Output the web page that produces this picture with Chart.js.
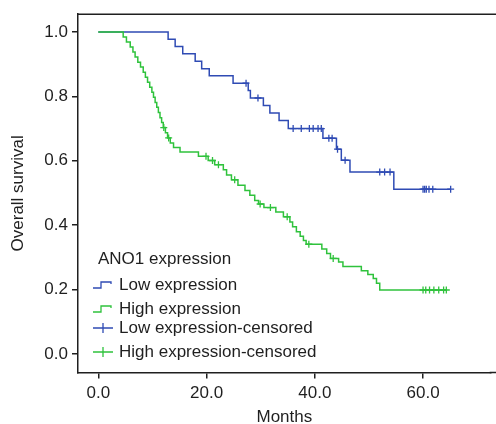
<!DOCTYPE html>
<html>
<head>
<meta charset="utf-8">
<script src="https://cdn.jsdelivr.net/npm/chart.js@4.4.1/dist/chart.umd.min.js"></script>
<style>
html,body{margin:0;padding:0;background:#fff;overflow:hidden;}
#wrap{width:496px;height:424px;position:relative;}
</style>
</head>
<body>
<div id="wrap"><canvas id="c" width="496" height="424"></canvas></div>
<script>
// ---- data ----
const xTicks = [0, 20, 40, 60];
const yTicks = [0, 0.2, 0.4, 0.6, 0.8, 1.0];

const lowTimes = [0, 12.9, 14.2, 15.6, 17.9, 19.1, 20.5, 24.9, 27.7, 28.1, 30.5, 31.7, 33.4, 35.1, 41.5, 44.0, 44.9, 46.5, 54.6, 65.1];
const lowSurv  = [1.0, 0.977, 0.955, 0.932, 0.909, 0.886, 0.864, 0.841, 0.818, 0.795, 0.772, 0.748, 0.725, 0.700, 0.670, 0.636, 0.602, 0.565, 0.512, 0.512];

const lowCensT = [27.3, 29.5, 36.0, 37.5, 39.0, 39.7, 40.6, 41.2, 42.6, 43.2, 44.2, 45.6, 52.0, 52.9, 53.9, 60.0, 60.3, 60.6, 61.1, 61.8, 65.1];
const lowCensS = [0.841, 0.795, 0.700, 0.700, 0.700, 0.700, 0.700, 0.700, 0.670, 0.670, 0.636, 0.602, 0.565, 0.565, 0.565, 0.512, 0.512, 0.512, 0.512, 0.512, 0.512];

const highTimes = [0, 4.6, 5.2, 5.9, 6.4, 6.8, 7.3, 7.8, 8.3, 8.7, 9.1, 9.5, 9.9, 10.2, 10.5, 10.8, 11.1, 11.4, 11.7, 12.0, 12.4, 12.8, 13.3, 13.9, 15.1,
  18.5, 20.3, 21.5, 23.1, 23.7, 24.6, 25.8, 27.1, 28.0, 28.9, 29.6, 30.6, 32.8, 34.2, 35.4, 35.9, 36.6, 37.3, 37.9, 38.4,
  41.3, 42.2, 42.9, 44.4, 45.2, 48.6, 49.8, 50.8, 51.4, 52.0, 64.3];
const highSurv  = [1.0, 0.984, 0.969, 0.953, 0.938, 0.922, 0.906, 0.891, 0.875, 0.859, 0.844, 0.828, 0.813, 0.797, 0.781, 0.766, 0.750, 0.734, 0.719, 0.703, 0.687, 0.671, 0.655, 0.641, 0.627,
  0.614, 0.601, 0.588, 0.572, 0.556, 0.541, 0.524, 0.508, 0.493, 0.477, 0.466, 0.455, 0.441, 0.426, 0.410, 0.395, 0.380, 0.366, 0.353, 0.341,
  0.326, 0.312, 0.297, 0.286, 0.272, 0.259, 0.247, 0.235, 0.220, 0.199, 0.199];

const highCensT = [12.1, 13.0, 19.9, 21.1, 22.2, 25.2, 29.9, 31.8, 34.9, 38.9, 43.4, 60.0, 60.5, 61.2, 62.0, 62.9, 63.8, 64.3];
const highCensS = [0.703, 0.671, 0.614, 0.601, 0.588, 0.541, 0.466, 0.455, 0.426, 0.341, 0.297, 0.199, 0.199, 0.199, 0.199, 0.199, 0.199, 0.199];

const legendTitle = 'ANO1 expression';
const legendLabels = ['Low expression', 'High expression', 'Low expression-censored', 'High expression-censored'];

// ---- styles ----
const BLUE = '#2f4bb4';
const GREEN = '#2fc23c';
const INK = '#1f1f1f';
const FONT = '"Liberation Sans", Arial, Helvetica, sans-serif';
const FS = 17;

function pts(xs, ys){ return xs.map((x,i)=>({x:x, y:ys[i]})); }

const framePlugin = {
  id: 'frame',
  afterDraw(chart){
    const ctx = chart.ctx, a = chart.chartArea;
    ctx.save();
    ctx.strokeStyle = INK; ctx.lineWidth = 1.5;
    ctx.beginPath();
    ctx.moveTo(a.left, a.top); ctx.lineTo(chart.width, a.top);
    ctx.moveTo(a.right - 1, a.bottom); ctx.lineTo(chart.width, a.bottom);
    ctx.stroke();
    // legend
    ctx.font = FS + 'px ' + FONT;
    ctx.fillStyle = INK;
    ctx.textBaseline = 'middle';
    ctx.textAlign = 'left';
    ctx.fillText(legendTitle, 98, 259);
    const rows = [285, 309, 328, 352];
    const cols = [BLUE, GREEN, BLUE, GREEN];
    rows.forEach((y,i)=>{
      ctx.strokeStyle = cols[i]; ctx.lineWidth = 1.3;
      ctx.beginPath();
      if (i < 2) {
        ctx.moveTo(93, y+3); ctx.lineTo(101, y+3); ctx.lineTo(101, y-3); ctx.lineTo(111, y-3); ctx.lineTo(111, y-1);
      } else {
        ctx.moveTo(93, y); ctx.lineTo(113, y); ctx.moveTo(103, y-5); ctx.lineTo(103, y+5);
      }
      ctx.stroke();
      ctx.fillStyle = INK;
      ctx.fillText(legendLabels[i], 119, y);
    });
    ctx.restore();
  }
};

new Chart(document.getElementById('c'), {
  type: 'line',
  data: {
    datasets: [
      { label: legendLabels[1], data: pts(highTimes, highSurv), borderColor: GREEN, borderWidth: 1.5, stepped: 'before', pointRadius: 0, fill: false, order: 1 },
      { label: legendLabels[0], data: pts(lowTimes, lowSurv), borderColor: BLUE, borderWidth: 1.5, stepped: 'before', pointRadius: 0, fill: false, order: 2 },
      { type: 'scatter', label: legendLabels[2], data: pts(lowCensT, lowCensS), showLine: false, pointStyle: 'cross', pointRadius: 3.5, borderColor: BLUE, borderWidth: 1.3, order: 0 },
      { type: 'scatter', label: legendLabels[3], data: pts(highCensT, highCensS), showLine: false, pointStyle: 'cross', pointRadius: 3.5, borderColor: GREEN, borderWidth: 1.3, order: 0 }
    ]
  },
  options: {
    responsive: false,
    animation: false,
    events: [],
    layout: { padding: { left: 0, right: 0, top: 13, bottom: 0 } },
    plugins: { legend: { display: false }, tooltip: { enabled: false } },
    scales: {
      x: {
        type: 'linear', min: -3.75, max: 72.5,
        afterBuildTicks: s => { s.ticks = xTicks.map(v=>({value:v})); },
        afterFit: s => { s.height = 51.5; },
        grid: { display: true, drawOnChartArea: false, drawTicks: true, tickLength: 6, color: INK, lineWidth: 1.5 },
        border: { display: true, color: INK, width: 1.5 },
        ticks: { color: INK, font: { family: FONT, size: FS }, padding: 5, maxRotation: 0, callback: v => v.toFixed(1) },
        title: { display: true, text: 'Months', color: INK, font: { family: FONT, size: FS, lineHeight: 1.0 }, padding: { top: 0, bottom: -2 } }
      },
      y: {
        type: 'linear', min: -0.057, max: 1.055,
        afterBuildTicks: s => { s.ticks = yTicks.map(v=>({value:v})); },
        afterFit: s => { s.width = 78; },
        grid: { display: true, drawOnChartArea: false, drawTicks: true, tickLength: 6, color: INK, lineWidth: 1.5 },
        border: { display: true, color: INK, width: 1.5 },
        ticks: { color: INK, font: { family: FONT, size: FS }, padding: 4, callback: v => v.toFixed(1) },
        title: { display: true, text: 'Overall survival', color: INK, font: { family: FONT, size: FS }, padding: { top: 8, bottom: 0 } }
      }
    }
  },
  plugins: [framePlugin]
});
</script>
</body>
</html>
